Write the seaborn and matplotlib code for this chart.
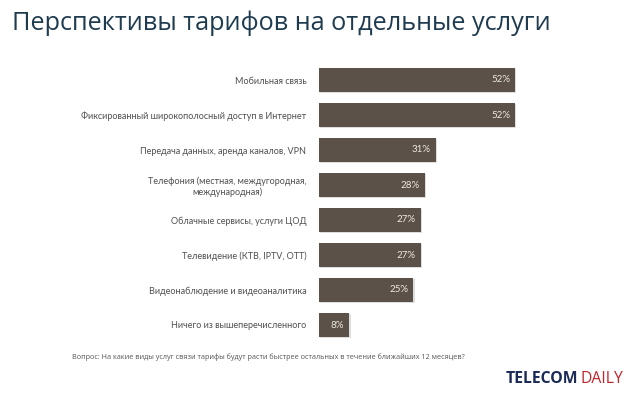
import matplotlib
matplotlib.use("Agg")
import matplotlib.pyplot as plt
import matplotlib.patheffects as pe
import seaborn as sns
import pandas as pd

categories = [
    "Мобильная связь",
    "Фиксированный широкополосный доступ в Интернет",
    "Передача данных, аренда каналов, VPN",
    "Телефония (местная, междугородная,\nмеждународная)",
    "Облачные сервисы, услуги ЦОД",
    "Телевидение (КТВ, IPTV, OTT)",
    "Видеонаблюдение и видеоаналитика",
    "Ничего из вышеперечисленного",
]
values = [52, 52, 31, 28, 27, 27, 25, 8]
value_labels = ["52%", "52%", "31%", "28%", "27%", "27%", "25%", "8%"]

title = "Перспективы тарифов на отдельные услуги"
footnote = "Вопрос: На какие виды услуг связи тарифы будут расти быстрее остальных в течение ближайших 12 месяцев?"

sns.set_theme(style="white")
plt.rcParams["font.family"] = ["Open Sans", "DejaVu Sans"]

W, H = 639, 398
fig = plt.figure(figsize=(W / 100, H / 100), dpi=100)
fig.patch.set_facecolor("white")

ax_left, ax_right = 319, 319 + 80 * 3.77
ax_top, ax_bot = 62.5, 342.5
ax = fig.add_axes([ax_left / W, 1 - ax_bot / H, (ax_right - ax_left) / W, (ax_bot - ax_top) / H])

df = pd.DataFrame({"cat": categories, "val": values})
sns.barplot(data=df, x="val", y="cat", orient="h", color="#5b5148", saturation=1,
            width=0.69, ax=ax, edgecolor="none")
for p in ax.patches:
    p.set_path_effects([pe.SimplePatchShadow(offset=(1.0, -1.0), shadow_rgbFace="#c4c4c4", alpha=0.55),
                        pe.Normal()])

ax.set_xlim(0, 80)
ax.set_ylim(len(categories) - 0.5, -0.5)
ax.set_xlabel("")
ax.set_ylabel("")
ax.set_xticks([])
for s in ax.spines.values():
    s.set_visible(False)
ax.tick_params(axis="y", length=0, pad=9, labelsize=6.45, labelcolor="#505050")
for t in ax.get_yticklabels():
    t.set_fontfamily(["Lato", "DejaVu Sans"])
    t.set_multialignment("center")

for i, (v, lab) in enumerate(zip(values, value_labels)):
    ax.text(v - 1.3, i, lab, ha="right", va="center", fontsize=7, color="#ece8e2",
            family=["Lato", "DejaVu Sans"])

fig.text(12 / W, 1 - 23 / H, title, fontsize=18.2, color="#1f3b4f", ha="left", va="center")
fig.text(72 / W, 1 - 357 / H, footnote, fontsize=5.2, color="#555555", ha="left", va="center")
t1 = fig.text(506 / W, 1 - 379 / H, "TELECOM", fontsize=11.3, fontweight="bold", color="#1b2a56",
              ha="left", va="center")
fig.canvas.draw()
bb = t1.get_window_extent()
fig.text((bb.x1 + 2) / W, 1 - 379 / H, "DAILY", fontsize=11.3, color="#c0272d", ha="left", va="center")

fig.savefig("out.png", dpi=100, facecolor="white")
